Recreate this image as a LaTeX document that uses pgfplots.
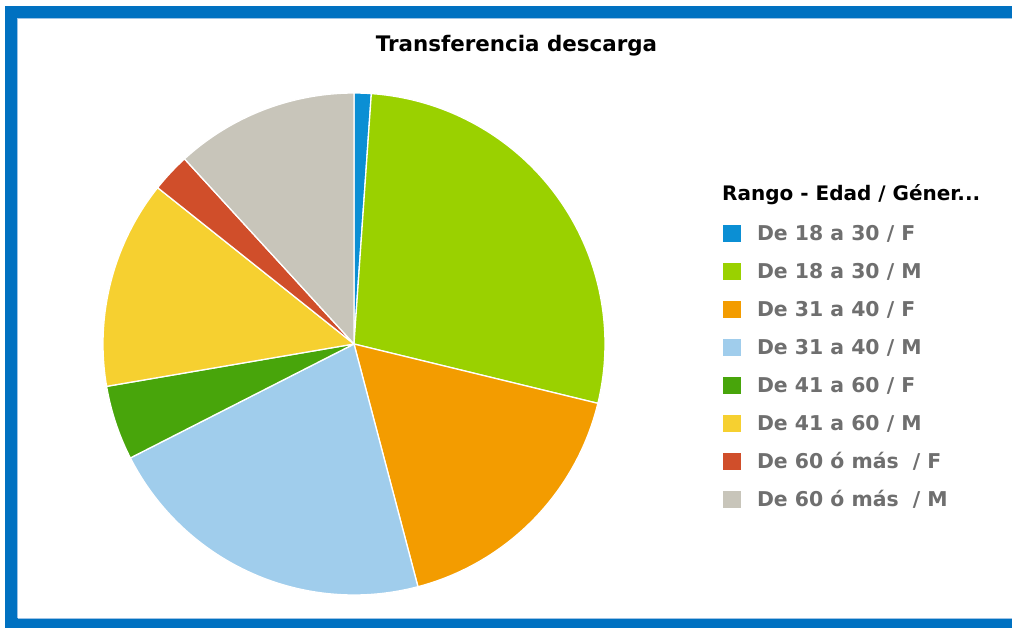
\documentclass[border=0pt]{standalone}
\usepackage{fontspec}
\setmainfont{DejaVu Sans}
\usepackage{pgfplots}
\usepackage{pgfplotstable}
\pgfplotsset{compat=1.18}

\definecolor{pie0}{HTML}{0B8FD4}
\definecolor{pie1}{HTML}{9AD100}
\definecolor{pie2}{HTML}{F39C00}
\definecolor{pie3}{HTML}{A0CDEC}
\definecolor{pie4}{HTML}{48A50B}
\definecolor{pie5}{HTML}{F6D030}
\definecolor{pie6}{HTML}{D04E2A}
\definecolor{pie7}{HTML}{C8C5BA}
\definecolor{legendgray}{HTML}{6F6F6F}
\definecolor{frameblue}{HTML}{0071C1}
\definecolor{framelight}{HTML}{9DC3E6}

% share of each slice, in percent, clockwise from 12 o'clock
\pgfplotstableread{
value
1.1
27.7
17.1
21.6
4.8
13.4
2.5
11.8
}\piedata

\newcommand\pieslice[3]{%
  \addplot[fill=#2, draw=white, line width=1.3pt, line join=round,
    domain=\csname ps#1\endcsname:\csname pe#1\endcsname, samples=90, variable=\t]
    ({251*sin(\t)}, {251*cos(\t)}) -- (axis cs:0,0) -- cycle;
  \addlegendentry{#3}%
}

\begin{document}
\begin{tikzpicture}[x=1pt,y=1pt]
\useasboundingbox (0,0) rectangle (1012,627);
\fill[white] (0,0) rectangle (1012,627);

% cumulative angles from the table
\gdef\pcum{0}
\foreach \i in {0,...,7}{%
  \pgfplotstablegetelem{\i}{value}\of\piedata
  \pgfmathsetmacro\pss{\pcum*3.6}%
  \pgfmathsetmacro\pee{(\pcum+\pgfplotsretval)*3.6}%
  \pgfmathsetmacro\pnew{\pcum+\pgfplotsretval}%
  \expandafter\xdef\csname ps\i\endcsname{\pss}%
  \expandafter\xdef\csname pe\i\endcsname{\pee}%
  \xdef\pcum{\pnew}%
}

\begin{axis}[
  at={(354,283)}, anchor=center,
  width=502pt, height=502pt, scale only axis,
  xmin=-251, xmax=251, ymin=-251, ymax=251,
  hide axis, clip=false,
  legend cell align=left,
  legend style={
    at={(1.2351,0.7371)}, anchor=north west,
    draw=none, fill=none, inner sep=0pt, outer sep=0pt,
    row sep=18pt, column sep=16pt,
    font=\fontsize{20.4}{24}\selectfont\bfseries,
    text=legendgray,
    nodes={inner sep=0pt, text height=16pt, text depth=4pt},
  },
  legend image code/.code={\fill[#1,draw=none] (0pt,-7pt) rectangle (18pt,10pt);},
]
\pieslice{0}{pie0}{De 18 a 30 / F}
\pieslice{1}{pie1}{De 18 a 30 / M}
\pieslice{2}{pie2}{De 31 a 40 / F}
\pieslice{3}{pie3}{De 31 a 40 / M}
\pieslice{4}{pie4}{De 41 a 60 / F}
\pieslice{5}{pie5}{De 41 a 60 / M}
\pieslice{6}{pie6}{De 60 ó más\ \ / F}
\pieslice{7}{pie7}{De 60 ó más\ \ / M}
\end{axis}

\node[anchor=base, inner sep=0pt, font=\fontsize{21.4}{25}\selectfont\bfseries] at (516.5,575) {Transferencia descarga};
\node[anchor=base west, inner sep=0pt, font=\fontsize{20}{24}\selectfont\bfseries] at (722,426) {Rango - Edad / Géner...};

\begin{scope}
\clip (0,0) rectangle (1012,627);
\draw[frameblue, line width=12pt] (11,615) rectangle (1030,3);
\draw[framelight, line width=1pt] (17.5,608.5) -- (1030,608.5);
\draw[framelight, line width=1pt] (17.5,608.5) -- (17.5,9);
\draw[framelight, line width=1pt] (17.5,9) -- (1030,9);
\end{scope}
\end{tikzpicture}
\end{document}
